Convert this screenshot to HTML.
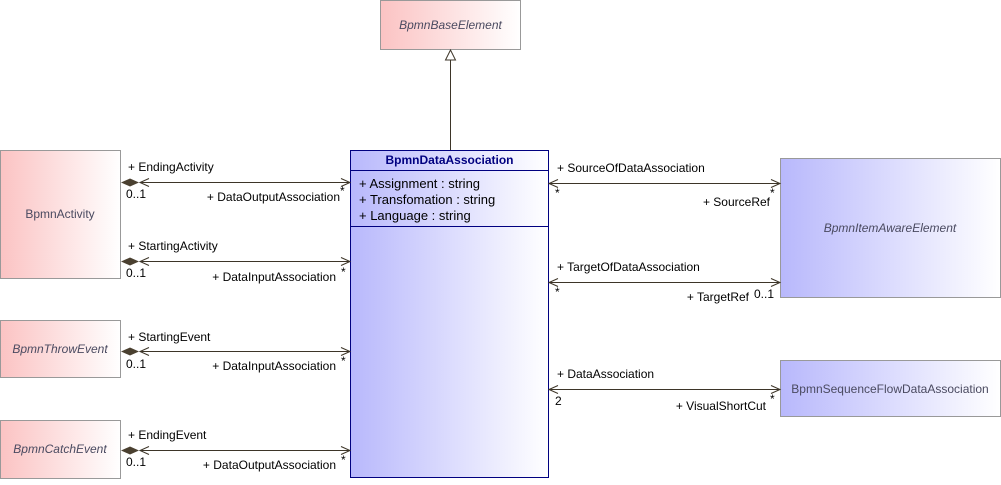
<!DOCTYPE html>
<html><head><meta charset="utf-8"><style>
html,body{margin:0;padding:0;background:#fff;}
svg{display:block;font-family:"Liberation Sans",sans-serif;font-size:12px;}
</style></head><body>
<svg width="1001" height="485" viewBox="0 0 1001 485" xmlns="http://www.w3.org/2000/svg">
<defs>
<linearGradient id="r" x1="0" x2="1" y1="0" y2="0"><stop offset="0" stop-color="#fbc3c3"/><stop offset="1" stop-color="#ffffff"/></linearGradient>
<linearGradient id="b" x1="0" x2="1" y1="0" y2="0"><stop offset="0" stop-color="#b8b8fc"/><stop offset="1" stop-color="#ffffff"/></linearGradient>
</defs>
<rect x="380.5" y="0.5" width="140" height="49" fill="url(#r)" stroke="#999"/>
<text x="450.5" y="29" text-anchor="middle" font-style="italic" fill="#4a4a60">BpmnBaseElement</text>

<rect x="0.5" y="150.5" width="120" height="128" fill="url(#r)" stroke="#999"/>
<text x="60" y="218" text-anchor="middle" fill="#4a4a60">BpmnActivity</text>
<rect x="0.5" y="320.5" width="120" height="57" fill="url(#r)" stroke="#999"/>
<text x="60" y="353" text-anchor="middle" font-style="italic" fill="#4a4a60">BpmnThrowEvent</text>
<rect x="0.5" y="420.5" width="120" height="58" fill="url(#r)" stroke="#999"/>
<text x="60" y="453" text-anchor="middle" font-style="italic" fill="#4a4a60">BpmnCatchEvent</text>

<rect x="780.5" y="158.5" width="220" height="139" fill="url(#b)" stroke="#999"/>
<text x="890" y="232" text-anchor="middle" font-style="italic" fill="#4a4a60">BpmnItemAwareElement</text>
<rect x="780.5" y="360.5" width="220" height="56" fill="url(#b)" stroke="#999"/>
<text x="890" y="393" text-anchor="middle" fill="#4a4a60">BpmnSequenceFlowDataAssociation</text>

<rect x="350.5" y="150.5" width="198" height="327" fill="url(#b)" stroke="#000080"/>
<line x1="350" y1="170.5" x2="549" y2="170.5" stroke="#000080"/>
<line x1="350" y1="226.5" x2="549" y2="226.5" stroke="#000080"/>
<text x="449.5" y="164" text-anchor="middle" font-weight="bold" fill="#000080">BpmnDataAssociation</text>
<g font-size="13">
<text x="359" y="188" fill="#000">+ Assignment : string</text>
<text x="359" y="204" fill="#000">+ Transfomation : string</text>
<text x="359" y="220" fill="#000">+ Language : string</text>
</g>

<line x1="450.5" y1="60" x2="450.5" y2="150" stroke="#3d3528"/>
<polygon points="450.5,50 445.5,60 455.5,60" fill="#fff" stroke="#3d3528"/>

<g stroke="#3d3528" fill="none">
<line x1="140" y1="182.5" x2="350" y2="182.5"/>
<line x1="140" y1="261.5" x2="350" y2="261.5"/>
<line x1="140" y1="351.5" x2="350" y2="351.5"/>
<line x1="140" y1="450.5" x2="350" y2="450.5"/>
<line x1="549" y1="183.5" x2="780" y2="183.5"/>
<line x1="549" y1="282.5" x2="780" y2="282.5"/>
<line x1="549" y1="389.5" x2="780" y2="389.5"/>
<path d="M341,178.5 L350,182.5 L341,186.5"/>
<path d="M341,257.5 L350,261.5 L341,265.5"/>
<path d="M341,347.5 L350,351.5 L341,355.5"/>
<path d="M341,446.5 L350,450.5 L341,454.5"/>
<path d="M149,178.5 L140,182.5 L149,186.5"/>
<path d="M149,257.5 L140,261.5 L149,265.5"/>
<path d="M149,347.5 L140,351.5 L149,355.5"/>
<path d="M149,446.5 L140,450.5 L149,454.5"/>
<path d="M558,179.5 L549,183.5 L558,187.5"/>
<path d="M558,278.5 L549,282.5 L558,286.5"/>
<path d="M558,385.5 L549,389.5 L558,393.5"/>
<path d="M771,179.5 L780,183.5 L771,187.5"/>
<path d="M771,278.5 L780,282.5 L771,286.5"/>
<path d="M771,385.5 L780,389.5 L771,393.5"/>
</g>
<g fill="#4a4030">
<polygon points="121,182.5 130,178.5 139,182.5 130,186.5"/>
<polygon points="121,261.5 130,257.5 139,261.5 130,265.5"/>
<polygon points="121,351.5 130,347.5 139,351.5 130,355.5"/>
<polygon points="121,450.5 130,446.5 139,450.5 130,454.5"/>
</g>
<g fill="#000">
<text x="128" y="171">+ EndingActivity</text>
<text x="126" y="198">0..1</text>
<text x="340" y="201" text-anchor="end">+ DataOutputAssociation</text>
<text x="340" y="195">*</text>
<text x="128" y="250">+ StartingActivity</text>
<text x="126" y="277">0..1</text>
<text x="336" y="281" text-anchor="end">+ DataInputAssociation</text>
<text x="341" y="276">*</text>
<text x="128" y="341">+ StartingEvent</text>
<text x="126" y="368">0..1</text>
<text x="336" y="370" text-anchor="end">+ DataInputAssociation</text>
<text x="341" y="365">*</text>
<text x="128" y="439">+ EndingEvent</text>
<text x="126" y="466">0..1</text>
<text x="336" y="469" text-anchor="end">+ DataOutputAssociation</text>
<text x="341" y="464">*</text>

<text x="557" y="172">+ SourceOfDataAssociation</text>
<text x="555" y="197">*</text>
<text x="770" y="206" text-anchor="end">+ SourceRef</text>
<text x="770" y="197">*</text>
<text x="557" y="271">+ TargetOfDataAssociation</text>
<text x="555" y="296">*</text>
<text x="749" y="301" text-anchor="end">+ TargetRef</text>
<text x="754" y="298">0..1</text>
<text x="557" y="378">+ DataAssociation</text>
<text x="555" y="405">2</text>
<text x="766" y="410" text-anchor="end">+ VisualShortCut</text>
<text x="770" y="403">*</text>
</g>
</svg>
</body></html>
